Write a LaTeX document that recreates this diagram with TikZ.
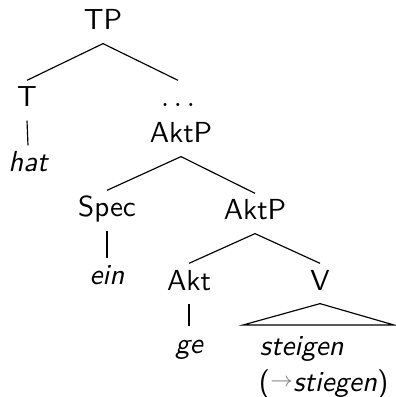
\documentclass[tikz,border=0pt]{standalone}
\renewcommand{\familydefault}{\sfdefault}
\begin{document}
\begin{tikzpicture}[x=0.345pt, y=-0.345pt,
  cat/.style={anchor=base, inner sep=1.5pt, text height=7.5pt, text depth=3pt},
  word/.style={cat, font=\itshape}]
\useasboundingbox (0,0) rectangle (395,397);
\node (TP) [cat] at (103,30) {TP};
\node (T) [cat] at (27,107) {T};
\node (hat) [word] at (28,172) {hat};
\node (dots) [cat] at (178,107) {$\ldots$};
\node (AktP) [cat] at (181,143) {AktP};
\node (Spec) [cat] at (107,217) {Spec};
\node (ein) [word] at (107,285) {ein};
\node (AktPbar) [cat] at (255,220) {AktP};
\node (Akt) [cat] at (189,290) {Akt};
\node (ge) [word] at (189,353) {ge};
\node (V) [cat] at (320,290) {V};
\node (steigen) [word, anchor=base west] at (255,355) {steigen};
\node (stiegen) [cat, anchor=base west] at (254,391) {(\textcolor{gray}{\raisebox{1.5pt}{$\scriptstyle\rightarrow$}}\textit{stiegen})};
\coordinate (triL) at (243,325);
\coordinate (triR) at (394,325);
\draw (TP.south) -- (T.north);
\draw (TP.south) -- (dots.north);
\draw (T.south) -- (hat.north);
\draw (AktP.south) -- (Spec.north);
\draw (AktP.south) -- (AktPbar.north);
\draw (Spec.south) -- (ein.north);
\draw (AktPbar.south) -- (Akt.north);
\draw (AktPbar.south) -- (V.north);
\draw (Akt.south) -- (ge.north);
\draw (V.south) -- (triL) -- (triR) -- cycle;
\end{tikzpicture}
\end{document}
